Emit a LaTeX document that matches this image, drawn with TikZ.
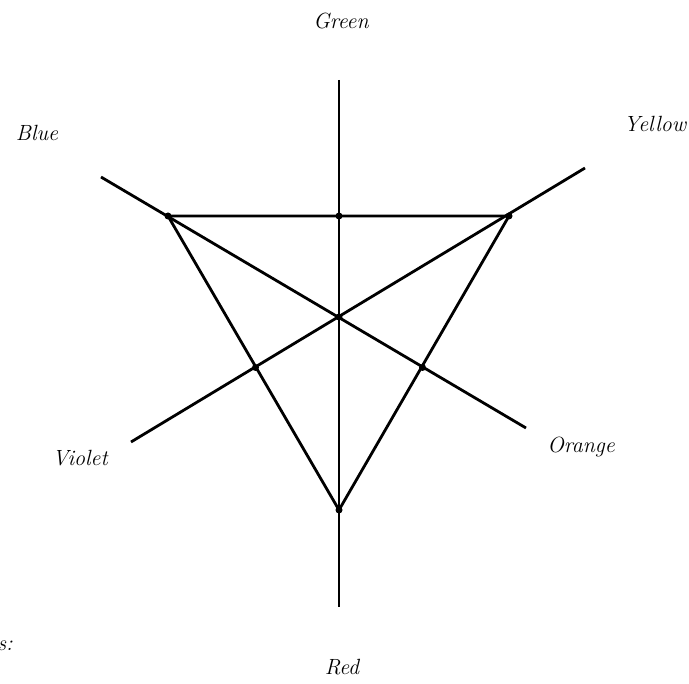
\documentclass[tikz,border=0pt]{standalone}
\begin{document}
\begin{tikzpicture}[x=1pt,y=-1pt,
  ln/.style={line width=2.8pt},
  dot/.style={circle,fill=black,inner sep=0pt,minimum size=7pt},
  lab/.style={font=\fontsize{22}{26}\selectfont\itshape,inner sep=0pt}]
\useasboundingbox (0,0) rectangle (689,684);
% endpoints
\coordinate (gT) at (339,80);
\coordinate (rB) at (339,607);
\coordinate (bE) at (101,177);
\coordinate (oE) at (526,428);
\coordinate (yE) at (585,168);
\coordinate (vE) at (131,442);
% triangle vertices and intersections
\node[dot] (A) at (168,216) {};
\node[dot] (B) at (509,216) {};
\node[dot] (C) at (339,510) {};
\node[dot] (M) at (339,216) {};
\node[dot] (O) at (339,317) {};
\node[dot] (L) at (255.5,367.5) {};
\node[dot] (R) at (422.5,367.5) {};
% lines
\draw[ln] (gT) -- (rB);
\draw[ln] (bE) -- (oE);
\draw[ln] (yE) -- (vE);
\draw[ln,line join=miter] (A.center) -- (B.center) -- (C.center) -- cycle;
% labels
\node[lab] (g) at (341,21) {Green};
\node[lab] (b) at (37,133) {Blue};
\node[lab] (y) at (655,124) {Yellow};
\node[lab] (v) at (80,458) {Violet};
\node[lab] (o) at (581,447) {Orange};
\node[lab] (r) at (342,667) {Red};
\node[lab,anchor=east] (s) at (13,646) {s:};
\end{tikzpicture}
\end{document}
